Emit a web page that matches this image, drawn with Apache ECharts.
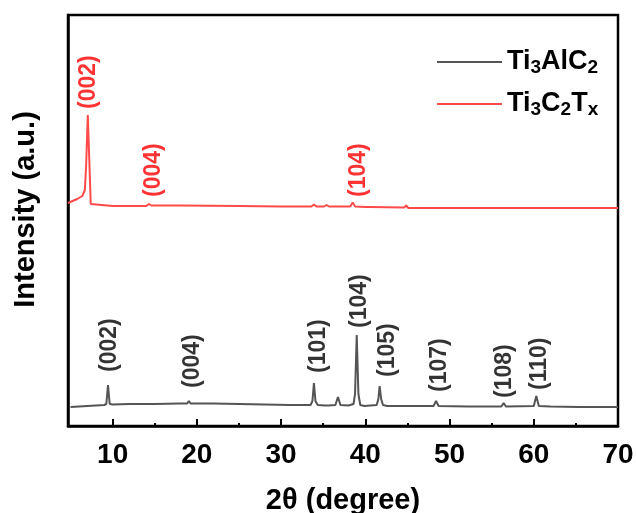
<!DOCTYPE html>
<html><head><meta charset="utf-8">
<script src="https://cdn.jsdelivr.net/npm/echarts@6/dist/echarts.min.js"></script>
<style>html,body{margin:0;padding:0;background:#fff}#c{width:636px;height:513px}</style>
</head><body><div id="c"></div>
<script>
// 2θ (degree) vs intensity (a.u.)
const ti3alc2 = [[5,19],[7,20],[9,21],[9.25,22],[9.45,41],[9.65,22],[10,21.5],[12,22],[15,22],[18,22.5],[18.85,22.5],[19.05,25],[19.25,22.5],[22,22.5],[25,22],[28,21.5],[31,21],[33.5,21],[33.72,25],[33.9,43],[34.08,25],[34.35,21],[35.2,20.5],[35.4,22],[35.6,20.5],[36.45,21],[36.75,29],[37.05,21],[38.0,20.5],[38.6,22],[38.78,32],[38.98,91],[39.18,32],[39.4,21],[39.9,20],[41.35,21],[41.55,27],[41.7,40],[41.88,27],[42.1,21],[42.6,20],[44.75,20],[44.95,21.5],[45.15,20],[48.1,20],[48.4,25],[48.7,20],[52.2,19.5],[52.4,21],[52.6,19.5],[56.15,19.5],[56.42,23],[56.7,19.5],[60.0,20],[60.3,30],[60.6,20],[62,19.5],[65.3,19],[65.5,20.5],[65.7,19],[70,19]];
const ti3c2tx = [[4.7,223],[5.8,227],[6.4,230],[6.7,236],[6.85,260],[7.05,311],[7.25,260],[7.4,222],[7.6,220],[10,220],[14,220],[14.3,222],[14.6,220.5],[18,220.5],[25,220],[30,219.5],[33.6,219.5],[33.9,221.5],[34.2,219.5],[35.1,219.5],[35.4,221],[35.7,219.5],[36.5,219.5],[36.7,220.5],[36.9,219.5],[38.2,219.5],[38.5,223.5],[38.8,219.5],[40.1,219],[40.3,220.5],[40.5,219],[44.6,218.5],[44.85,220.5],[45.1,218],[50,218],[55,218],[60,218],[64.9,218],[65.1,219.5],[65.3,218],[70,218]];
const blackLabels = [[9.6,54,'(002)'],[19.5,38,'(004)'],[34.5,53,'(101)'],[39.3,98,'(104)'],[42.7,49,'(105)'],[48.8,34,'(107)'],[56.5,28,'(108)'],[60.7,36,'(110)']];
const redLabels = [[7.1,317,'(002)'],[14.9,229,'(004)'],[39.2,229,'(104)']];
const xMajorTicks = [10,20,30,40,50,60,70];
const xMinorTicks = [15,25,35,45,55,65];
const seriesNames = ['Ti3AlC2','Ti3C2Tx'];

const FONT = 'Liberation Sans, Arial, sans-serif';
const chart = echarts.init(document.getElementById('c'));
function labelSeries(arr, color){
  return {
    type:'scatter', symbolSize:0, silent:true, xAxisIndex:0, yAxisIndex:0,
    data: arr.map(d=>({value:[d[0],d[1]], name:d[2]})),
    label:{show:true, position:'top', distance:0, rotate:90, align:'left', verticalAlign:'middle',
      formatter:p=>p.name, color:color, fontSize:23, fontWeight:'bold', fontFamily:FONT},
    z:5
  };
}
const rich = {
  a:{fontSize:27, fontWeight:'bold', fontFamily:FONT, color:'#000', lineHeight:30},
  s:{fontSize:19, fontWeight:'bold', fontFamily:FONT, color:'#000', verticalAlign:'bottom', padding:[12,0,0,0], lineHeight:30}
};
function legendFmt(n){
  if(n==='Ti3AlC2') return '{a|Ti}{s|3}{a|AlC}{s|2}';
  return '{a|Ti}{s|3}{a|C}{s|2}{a|T}{s|x}';
}
chart.setOption({
  animation:false,
  backgroundColor:'#fff',
  grid:{left:68,right:18,top:15,bottom:87,show:true,borderColor:'#000',borderWidth:2.5,outerBoundsMode:'none',containLabel:false},
  legend:{data:seriesNames.map(n=>({name:n, icon:'rect'})), orient:'vertical', left:437, top:46, padding:0, itemWidth:65, itemHeight:2, itemGap:11, itemSpacing:6,
    formatter:legendFmt, textStyle:{rich:rich}},
  xAxis:[{type:'value', min:4.7, max:70,
    name:'2θ (degree)', nameLocation:'middle', nameGap:60,
    nameTextStyle:{fontSize:29, fontWeight:'bold', fontFamily:FONT, color:'#000'},
    axisLine:{lineStyle:{color:'#000', width:2.5}},
    axisTick:{inside:true, length:7, customValues:xMajorTicks, lineStyle:{color:'#000', width:2}},
    axisLabel:{customValues:xMajorTicks, fontSize:28, fontWeight:'bold', fontFamily:FONT, color:'#000', margin:15},
    splitLine:{show:false}},
   {type:'value', min:4.7, max:70, position:'bottom', gridIndex:0,
    axisLine:{show:false},
    axisTick:{inside:true, length:3, customValues:xMinorTicks, lineStyle:{color:'#000', width:2}},
    axisLabel:{show:false}, splitLine:{show:false}}],
  yAxis:{type:'value', min:0, max:411,
    name:'Intensity (a.u.)', nameLocation:'middle', nameGap:28,
    nameTextStyle:{fontSize:29, fontWeight:'bold', fontFamily:FONT, color:'#000', padding:[0,0,0,22]},
    axisLine:{lineStyle:{color:'#000', width:2.5}},
    axisTick:{show:false}, axisLabel:{show:false}, splitLine:{show:false}},
  series:[
    {name:'Ti3AlC2', type:'line', data:ti3alc2, symbol:'none', lineStyle:{color:'#555', width:2}, itemStyle:{color:'#555'}},
    {name:'Ti3C2Tx', type:'line', data:ti3c2tx, symbol:'none', lineStyle:{color:'#ff4a4a', width:2}, itemStyle:{color:'#ff4a4a'}},
    labelSeries(blackLabels,'#000'),
    labelSeries(redLabels,'#ff0000')
  ]
});
</script></body></html>
